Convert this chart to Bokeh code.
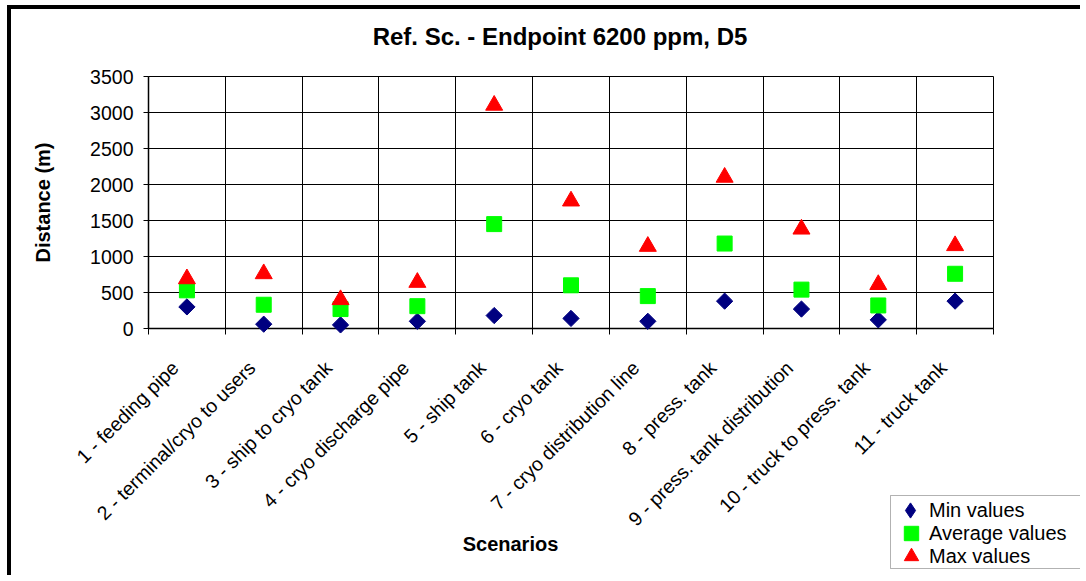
from math import pi
from bokeh.plotting import figure
from bokeh.models import (Range1d, FixedTicker, Legend, LegendItem, Label, ColumnDataSource,
                          BoxAnnotation)
from bokeh.embed import file_html
from bokeh.resources import INLINE

# ---------------- data ----------------
title_text = "Ref. Sc. - Endpoint 6200 ppm, D5"
scenarios = ["1 - feeding pipe", "2 - terminal/cryo to users", "3 - ship to cryo tank",
             "4 - cryo discharge pipe", "5 - ship tank", "6 - cryo tank",
             "7 - cryo distribution line", "8 - press. tank", "9 - press. tank distribution",
             "10 - truck to press. tank", "11 - truck tank"]
min_values = [300, 60, 50, 100, 180, 140, 100, 380, 270, 120, 380]
avg_values = [530, 330, 270, 310, 1450, 600, 450, 1180, 540, 320, 760]
max_values = [690, 760, 400, 640, 3100, 1770, 1140, 2100, 1380, 610, 1150]
y_ticks = [0, 500, 1000, 1500, 2000, 2500, 3000, 3500]
series_names = ["Min values", "Average values", "Max values"]
y_title = "Distance (m)"
x_title = "Scenarios"

# ---------------- layout (page pixels) ----------------
W, H = 1073, 570                 # canvas size
CX0, CY0 = 11, 9                 # canvas origin on the page (after frame border)
PL, PR, PT, PB = 148, 993, 76, 328   # plot-area edges on the page
FONT = "Liberation Sans"
NAVY, GREEN, RED = "#000080", "#00FF00", "#FF0000"

n = len(scenarios)
ymax = y_ticks[-1]
ux = (PR - PL) / n               # px per category
uy = (PB - PT) / ymax            # px per metre


def dx(px):                      # page x -> data x
    return (px - PL) / ux


def dy(py):                      # page y -> data y
    return (PB - py) / uy


centers = [i + 0.5 for i in range(n)]
boundaries = list(range(n + 1))
label_pos = [c + (-12) / ux for c in centers]

src = ColumnDataSource(dict(x=centers, mn=min_values, av=avg_values, mx=max_values))

p = figure(width=W, height=H,
           x_range=Range1d(dx(CX0), dx(CX0 + W)), y_range=Range1d(dy(CY0 + H), dy(CY0)),
           output_backend="svg", toolbar_location=None, title=None,
           min_border=0, min_border_left=0, min_border_right=0,
           min_border_top=0, min_border_bottom=0)
p.styles = {"border-top": "4px solid black", "border-left": "4px solid black",
            "margin-left": "7px", "margin-top": "5px"}
p.background_fill_color = "white"
p.border_fill_color = "white"
p.outline_line_color = None

# y axis at x = 0
p.yaxis.fixed_location = 0
p.yaxis.bounds = (0, ymax)
p.yaxis.ticker = FixedTicker(ticks=y_ticks)
p.yaxis.axis_label = y_title
p.yaxis.axis_label_text_font = FONT
p.yaxis.axis_label_text_font_size = "20px"
p.yaxis.axis_label_text_font_style = "bold"
p.yaxis.axis_label_text_color = "black"
p.yaxis.axis_label_standoff = 33
p.yaxis.major_label_text_font = FONT
p.yaxis.major_label_text_font_size = "19.5px"
p.yaxis.major_label_text_color = "black"
p.yaxis.major_label_standoff = 10
p.yaxis.major_tick_out = 5
p.yaxis.major_tick_in = 0
p.yaxis.major_tick_line_color = "black"
p.yaxis.minor_tick_line_color = None
p.yaxis.axis_line_color = "black"
p.yaxis.axis_line_width = 1.5

# x axis at y = 0: labels near category centres, tick marks / grid at boundaries
p.xaxis.fixed_location = 0
p.xaxis.bounds = (0, n)
p.xaxis.ticker = FixedTicker(ticks=label_pos, minor_ticks=boundaries)
p.xaxis.major_label_overrides = {c: s for c, s in zip(label_pos, scenarios)}
p.xaxis.major_label_orientation = pi / 4
p.xaxis.major_label_text_font = FONT
p.xaxis.major_label_text_font_size = "19.5px"
p.xaxis.major_label_text_color = "black"
p.xaxis.major_label_standoff = 30
p.xaxis.major_tick_line_color = None
p.xaxis.major_tick_out = 0
p.xaxis.major_tick_in = 0
p.xaxis.minor_tick_line_color = "black"
p.xaxis.minor_tick_out = 6
p.xaxis.minor_tick_in = 0
p.xaxis.axis_line_color = "black"
p.xaxis.axis_line_width = 1.5

# grid restricted to the plot area
yg, xg = p.ygrid[0], p.xgrid[0]
if "cross_bounds" in yg.properties():
    yg.cross_bounds = (0, n)
    xg.cross_bounds = (0, ymax)
    yg.grid_line_color = "black"
    yg.grid_line_width = 1
    xg.grid_line_color = None
    xg.minor_grid_line_color = "black"
    xg.minor_grid_line_width = 1
else:
    yg.grid_line_color = None
    xg.grid_line_color = None
    p.segment(x0=[0] * len(y_ticks), x1=[n] * len(y_ticks), y0=y_ticks, y1=y_ticks,
              line_color="black", line_width=1, level="underlay")
    p.segment(x0=boundaries, x1=boundaries, y0=[0] * len(boundaries), y1=[ymax] * len(boundaries),
              line_color="black", line_width=1, level="underlay")

# legend key for the min series: a diamond drawn under (hidden by) the rotated squares
r_min_key = p.scatter("x", "mn", source=src, marker="diamond", size=10,
                      fill_color=NAVY, line_color=NAVY)
r_min = p.scatter("x", "mn", source=src, marker="square", angle=pi / 4, size=11.5,
                  fill_color=NAVY, line_color=NAVY, level="overlay")
r_avg = p.scatter("x", "av", source=src, marker="square", size=15,
                  fill_color=GREEN, line_color=GREEN, level="overlay")
r_max = p.scatter("x", "mx", source=src, marker="triangle", size=17,
                  fill_color=RED, line_color=RED, level="overlay")

# chart title and x-axis title
p.add_layout(Label(x=dx(559.5), y=dy(36), text=title_text, text_align="center",
                   text_baseline="middle", text_font=FONT, text_font_size="24px",
                   text_font_style="bold", text_color="black"))
p.add_layout(Label(x=dx(510), y=dy(543), text=x_title, text_align="center",
                   text_baseline="middle", text_font=FONT, text_font_size="20px",
                   text_font_style="bold", text_color="black"))

# legend: framed box with one row per series
p.add_layout(BoxAnnotation(left=dx(890), right=dx(1082), top=dy(495), bottom=dy(568),
                           fill_color="white", fill_alpha=1, line_color="black",
                           line_width=1))
TEXT_X = 929
rows = [(series_names[0], r_min_key, 510, 38),
        (series_names[1], r_avg, 533, 36),
        (series_names[2], r_max, 556, 36)]
for name, rend, yc, g in rows:
    lg = Legend(items=[LegendItem(label=name, renderers=[rend])],
                location=(TEXT_X - g - CX0, (CY0 + H) - (yc + g / 2)))
    lg.glyph_width = g
    lg.glyph_height = g
    lg.padding = 0
    lg.margin = 0
    lg.spacing = 0
    lg.label_standoff = 0
    lg.label_height = 20
    lg.label_text_font = FONT
    lg.label_text_font_size = "20px"
    lg.label_text_color = "black"
    lg.border_line_color = None
    lg.background_fill_alpha = 0
    p.add_layout(lg)

open("out.html", "w").write(file_html(p, INLINE))
